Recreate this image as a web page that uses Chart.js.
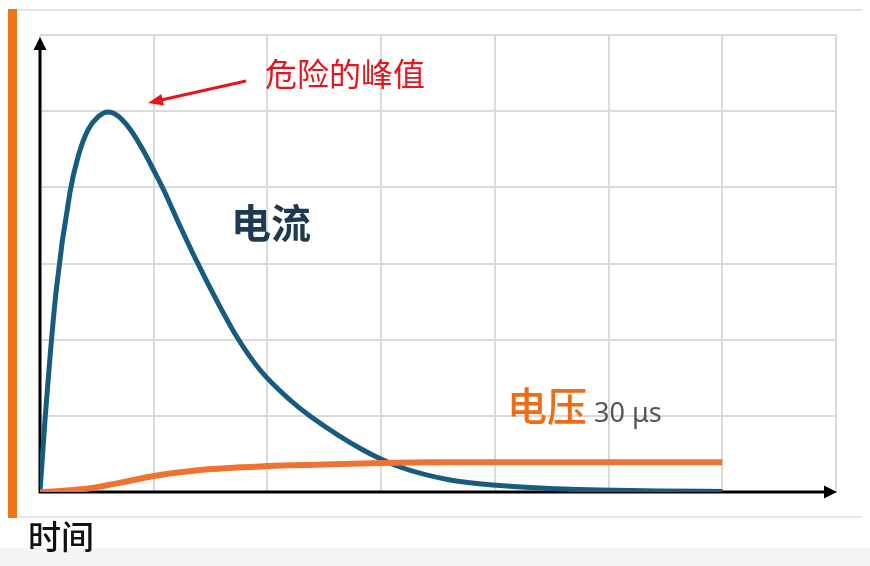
<!DOCTYPE html>
<html>
<head>
<meta charset="utf-8">
<script src="https://cdn.jsdelivr.net/npm/chart.js@4.4.0/dist/chart.umd.min.js"></script>
<style>
    html, body { margin: 0; padding: 0; background: #fff; }
    .wrap { position: relative; width: 870px; height: 566px; overflow: hidden; }
    .bar { position: absolute; left: 8px; top: 9px; width: 9px; height: 509px; background: #ee7417; }
    .frame-top { position: absolute; left: 17px; top: 9px; width: 845px; height: 2px; background: #e4e4e4; }
    .frame-bottom { position: absolute; left: 17px; top: 516px; width: 845px; height: 2px; background: #e6e6e6; }
    .band { position: absolute; left: 0; top: 548px; width: 870px; height: 18px; background: #f3f4f6; }
    canvas { position: absolute; left: 0; top: 0; }
</style>
</head>
<body>
<div class="wrap">
    <div class="band"></div>
    <div class="frame-top"></div>
    <div class="frame-bottom"></div>
    <div class="bar"></div>
    <canvas id="surgeChart" width="870" height="566"></canvas>
</div>
<script>
// Current curve (blue) in grid units
const currentTime = [0, 0.044, 0.141, 0.264, 0.334, 0.422, 0.51, 0.598, 0.686, 0.791, 0.906, 0.985, 1.084, 1.231, 1.381, 1.556, 1.732, 1.935, 2.199, 2.374, 2.841, 3.166, 3.606, 4.045, 4.485, 4.925, 5.452, 6.0];
const currentValues = [0, 0.945, 2.626, 3.939, 4.398, 4.753, 4.924, 4.989, 4.937, 4.766, 4.49, 4.267, 3.978, 3.492, 3.02, 2.508, 2.035, 1.602, 1.208, 0.998, 0.551, 0.328, 0.158, 0.085, 0.046, 0.026, 0.013, 0.007];

// Voltage curve (orange)
const voltageTime = [0, 0.2, 0.44, 0.7, 1.0, 1.41, 2.0, 2.5, 3.0, 3.5, 4.0, 5.0, 6.0];
const voltageValues = [0, 0.015, 0.05, 0.12, 0.21, 0.29, 0.34, 0.36, 0.38, 0.39, 0.39, 0.39, 0.39];

// Grid extent (cells)
const xRange = [0, 7];
const yRange = [0, 6];

const labels = {
    peak: '危险的峰值',
    current: '电流',
    voltage: '电压',
    duration: '30 μs',
    time: '时间'
};

const toPoints = (xs, ys) => xs.map((x, i) => ({ x: x, y: ys[i] }));

const cjk = '"Noto Sans CJK SC", "Noto Sans", sans-serif';

// Axes with arrowheads, texts and the red pointer
const overlay = {
    id: 'overlay',
    beforeDatasetsDraw(chart) {
        const { ctx, scales: { x, y } } = chart;
        const x0 = x.getPixelForValue(0), y0 = y.getPixelForValue(0);
        const xEnd = x.getPixelForValue(xRange[1]) + 1;
        const yEnd = y.getPixelForValue(yRange[1]) + 2;
        ctx.save();
        ctx.strokeStyle = '#000';
        ctx.fillStyle = '#000';
        ctx.lineWidth = 3;
        ctx.beginPath();
        ctx.moveTo(x0, y0);
        ctx.lineTo(x0, yEnd + 10);
        ctx.moveTo(x0 - 1.5, y0);
        ctx.lineTo(xEnd - 10, y0);
        ctx.stroke();
        ctx.beginPath();
        ctx.moveTo(x0, yEnd);
        ctx.lineTo(x0 - 6.5, yEnd + 13);
        ctx.lineTo(x0 + 6.5, yEnd + 13);
        ctx.closePath();
        ctx.fill();
        ctx.beginPath();
        ctx.moveTo(xEnd, y0);
        ctx.lineTo(xEnd - 13, y0 - 6.5);
        ctx.lineTo(xEnd - 13, y0 + 6.5);
        ctx.closePath();
        ctx.fill();
        ctx.restore();
    },
    afterDatasetsDraw(chart) {
        const { ctx, scales: { x, y } } = chart;
        const px = v => x.getPixelForValue(v);
        const py = v => y.getPixelForValue(v);
        ctx.save();
        ctx.textAlign = 'left';

        ctx.textBaseline = 'middle';
        ctx.fillStyle = '#e8141c';
        ctx.font = '400 32px ' + cjk;
        ctx.fillText(labels.peak, px(1.979), py(5.49));

        // pointer to the peak
        const sx = px(1.812), sy = py(5.396);
        const tx = px(0.95), ty = py(5.107);
        const ang = Math.atan2(ty - sy, tx - sx);
        ctx.strokeStyle = '#e8141c';
        ctx.lineWidth = 3;
        ctx.beginPath();
        ctx.moveTo(sx, sy);
        ctx.lineTo(tx - Math.cos(ang) * 10, ty - Math.sin(ang) * 10);
        ctx.stroke();
        ctx.beginPath();
        ctx.moveTo(tx, ty);
        ctx.lineTo(tx - Math.cos(ang) * 15 - Math.sin(ang) * 6, ty - Math.sin(ang) * 15 + Math.cos(ang) * 6);
        ctx.lineTo(tx - Math.cos(ang) * 15 + Math.sin(ang) * 6, ty - Math.sin(ang) * 15 - Math.cos(ang) * 6);
        ctx.closePath();
        ctx.fillStyle = '#e8141c';
        ctx.fill();

        ctx.fillStyle = '#1e3a53';
        ctx.font = '700 40px ' + cjk;
        ctx.fillText(labels.current, px(1.68), py(3.53));

        ctx.fillStyle = '#ee6c14';
        ctx.font = '500 40px ' + cjk;
        ctx.fillText(labels.voltage, px(4.107), py(1.129));

        ctx.textBaseline = 'alphabetic';
        ctx.fillStyle = '#555';
        ctx.font = '400 27px "Noto Sans", sans-serif';
        ctx.fillText(labels.duration, px(4.872), py(0.919));

        ctx.textBaseline = 'middle';
        ctx.fillStyle = '#111';
        ctx.font = '500 33px ' + cjk;
        ctx.fillText(labels.time, px(-0.106), py(-0.59));
        ctx.restore();
    }
};

new Chart(document.getElementById('surgeChart'), {
    type: 'line',
    data: {
        datasets: [
            {
                label: '电压',
                data: toPoints(voltageTime, voltageValues),
                borderColor: '#ef7330',
                borderWidth: 6,
                pointRadius: 0,
                cubicInterpolationMode: 'monotone',
                fill: false
            },
            {
                label: '电流',
                data: toPoints(currentTime, currentValues),
                borderColor: '#175c7f',
                borderWidth: 5,
                pointRadius: 0,
                cubicInterpolationMode: 'monotone',
                fill: false
            }
        ]
    },
    options: {
        responsive: false,
        animation: false,
        devicePixelRatio: 1,
        layout: { padding: { left: 40, top: 35, right: 34, bottom: 74 } },
        plugins: {
            legend: { display: false },
            tooltip: { enabled: false }
        },
        scales: {
            x: {
                type: 'linear',
                min: xRange[0],
                max: xRange[1],
                ticks: { display: false, stepSize: 1 },
                grid: { color: '#dadada', lineWidth: 2, drawTicks: false },
                border: { display: false }
            },
            y: {
                min: yRange[0],
                max: yRange[1],
                ticks: { display: false, stepSize: 1 },
                grid: { color: '#dadada', lineWidth: 2, drawTicks: false },
                border: { display: false }
            }
        }
    },
    plugins: [overlay]
});
</script>
</body>
</html>
